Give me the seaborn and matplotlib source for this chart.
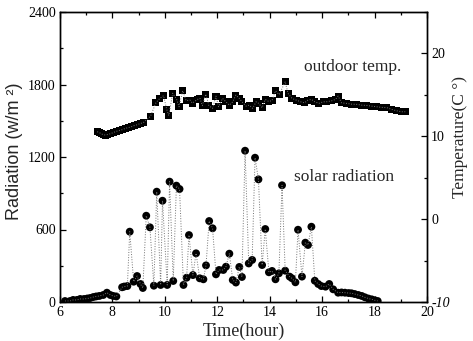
import matplotlib
matplotlib.use('Agg')
import matplotlib.pyplot as plt
import seaborn as sns
import pandas as pd
from matplotlib.ticker import MultipleLocator

# ---------------- data ----------------
rad_hour = [6.19, 6.38, 6.50, 6.65, 6.77, 6.92, 7.04, 7.15, 7.27, 7.38, 7.50, 7.65, 7.79, 7.92, 8.03, 8.15,
            8.37, 8.45, 8.57, 8.66, 8.81, 8.94, 9.07, 9.16, 9.29, 9.43, 9.58, 9.69, 9.84, 9.91, 10.09, 10.18,
            10.32, 10.44, 10.56, 10.71, 10.83, 10.92, 11.07, 11.19, 11.33, 11.47, 11.57, 11.69, 11.82, 11.95,
            12.07, 12.23, 12.33, 12.46, 12.59, 12.71, 12.84, 12.94, 13.06, 13.20, 13.33, 13.44, 13.57, 13.71,
            13.83, 13.97, 14.09, 14.22, 14.35, 14.47, 14.59, 14.76, 14.85, 14.98, 15.08, 15.23, 15.36, 15.46,
            15.59, 15.72, 15.85, 15.97, 16.13, 16.27, 16.42, 16.61, 16.74, 16.87, 17.01, 17.12, 17.24, 17.38,
            17.51, 17.63, 17.76, 17.89, 18.01, 18.12]
rad_val = [8, 8, 17, 17, 25, 25, 29, 33, 41, 46, 50, 58, 77, 58, 50, 46,
           122, 128, 132, 582, 168, 215, 149, 116, 714, 618, 135, 913, 141, 838, 141, 996,
           174, 963, 935, 141, 201, 554, 223, 403, 196, 188, 303, 670, 610, 229,
           265, 265, 292, 400, 182, 161, 290, 207, 1252, 319, 348, 1194, 1015, 306,
           604, 246, 257, 188, 237, 966, 259, 210, 196, 163, 598, 210, 491, 472,
           623, 176, 149, 132, 127, 149, 105, 77, 79, 77, 74, 72, 66, 58,
           50, 39, 29, 22, 14, 8]

temp_hour = [7.42, 7.50, 7.57, 7.65, 7.73, 7.80, 7.92, 8.03, 8.15, 8.26, 8.38, 8.49, 8.61, 8.72, 8.84, 8.95,
             9.07, 9.18, 9.45, 9.66, 9.80, 9.95, 10.07, 10.15, 10.30, 10.45, 10.54, 10.68, 10.81, 10.96,
             11.05, 11.24, 11.34, 11.43, 11.56, 11.68, 11.82, 11.95, 12.05, 12.20, 12.33, 12.46, 12.59,
             12.71, 12.84, 12.94, 13.10, 13.22, 13.35, 13.48, 13.58, 13.71, 13.83, 13.96, 14.09, 14.22,
             14.36, 14.59, 14.70, 14.85, 15.01, 15.18, 15.33, 15.46, 15.59, 15.72, 15.87, 16.04, 16.16,
             16.36, 16.51, 16.61, 16.74, 16.93, 17.12, 17.32, 17.51, 17.70, 17.89, 18.08, 18.27, 18.47,
             18.66, 18.85, 19.04, 19.17]
temp_val = [10.55, 10.45, 10.3, 10.2, 10.15, 10.2, 10.3, 10.45, 10.6, 10.7, 10.8, 10.95, 11.05, 11.15, 11.3, 11.4,
            11.55, 11.65, 12.4, 14.05, 14.55, 14.9, 13.25, 12.5, 15.2, 14.45, 13.56, 15.5, 14.3, 14.37,
            14.0, 14.45, 14.57, 13.7, 15.09, 13.7, 13.37, 14.85, 13.56, 14.57, 14.16, 13.76, 14.16,
            14.97, 14.57, 14.16, 13.64, 13.76, 13.37, 14.16, 13.97, 13.45, 14.45, 14.2, 14.32, 15.49,
            15.03, 16.57, 15.17, 14.57, 14.37, 14.16, 14.04, 14.37, 14.45, 14.16, 13.97, 14.16, 14.16,
            14.28, 14.45, 14.85, 14.04, 13.97, 13.88, 13.85, 13.76, 13.72, 13.64, 13.56, 13.49, 13.45,
            13.24, 13.07, 12.96, 12.96]

x_ticks = [6, 8, 10, 12, 14, 16, 18, 20]
rad_ticks = [0, 600, 1200, 1800, 2400]
temp_ticks = [-10, 0, 10, 20]

# ---------------- style ----------------
sns.set_style('ticks')
plt.rcParams['font.family'] = ['Liberation Serif', 'DejaVu Serif']

fig = plt.figure(figsize=(4.73, 3.41), dpi=100)
ax = fig.add_axes([60 / 473, 1 - 302 / 341, (427 - 60) / 473, 290 / 341])

rad = pd.DataFrame({'hour': rad_hour, 'rad': rad_val})
temp = pd.DataFrame({'hour': temp_hour, 'temp': temp_val})

sns.lineplot(data=rad, x='hour', y='rad', ax=ax, color='0.45', linestyle=':',
             linewidth=0.7, estimator=None, sort=False)
sns.scatterplot(data=rad, x='hour', y='rad', ax=ax, color='black', s=32,
                marker='o', edgecolor='none', linewidth=0)

ax2 = ax.twinx()
sns.lineplot(data=temp, x='hour', y='temp', ax=ax2, color='0.45', linestyle=':',
             linewidth=0.7, estimator=None, sort=False)
sns.scatterplot(data=temp, x='hour', y='temp', ax=ax2, color='black', s=26,
                marker='s', edgecolor='none', linewidth=0)

ax.set_xlim(6, 20)
ax.set_ylim(0, 2400)
ax2.set_ylim(-10, 25)

ax.set_xticks(x_ticks)
ax.xaxis.set_minor_locator(MultipleLocator(1))
ax.set_yticks(rad_ticks)
ax.yaxis.set_minor_locator(MultipleLocator(300))
ax2.set_yticks(temp_ticks)
ax2.yaxis.set_minor_locator(MultipleLocator(5))

for a in (ax, ax2):
    for s in a.spines.values():
        s.set_linewidth(1.0)
        s.set_color('black')

ax.tick_params(axis='both', which='both', direction='in', top=True, right=False,
               labelsize=10, colors='black', width=0.9)
ax.tick_params(which='major', length=4)
ax.tick_params(which='minor', length=2.5)
ax.tick_params(axis='x', pad=3)
ax.tick_params(axis='y', pad=3)
ax2.tick_params(axis='y', which='both', direction='in', right=True, left=False,
                labelsize=10, colors='black', width=0.9, pad=3)
ax2.tick_params(which='major', length=4)
ax2.tick_params(which='minor', length=2.5)
ax2.set_yticklabels([str(t) for t in temp_ticks])
ax2.get_yticklabels()[0].set_style('italic')

ax.set_xlabel('Time(hour)', fontsize=13)
ax.xaxis.set_label_coords(0.5, -0.072)
ax.set_ylabel('Radiation (w/m \u00b2)', fontsize=13, family=['Liberation Sans', 'DejaVu Sans'])
ax.yaxis.set_label_coords(-0.1, 0.52)
ax2.set_ylabel('Temperature(C \u00b0)', fontsize=12.5)
ax2.yaxis.set_label_coords(1.068, 0.57)

ax.text(15.3, 1945, 'outdoor temp.', fontsize=12.5, ha='left', va='center')
ax.text(14.93, 1037, 'solar radiation', fontsize=12.5, ha='left', va='center')

fig.savefig('out.png', dpi=100)
